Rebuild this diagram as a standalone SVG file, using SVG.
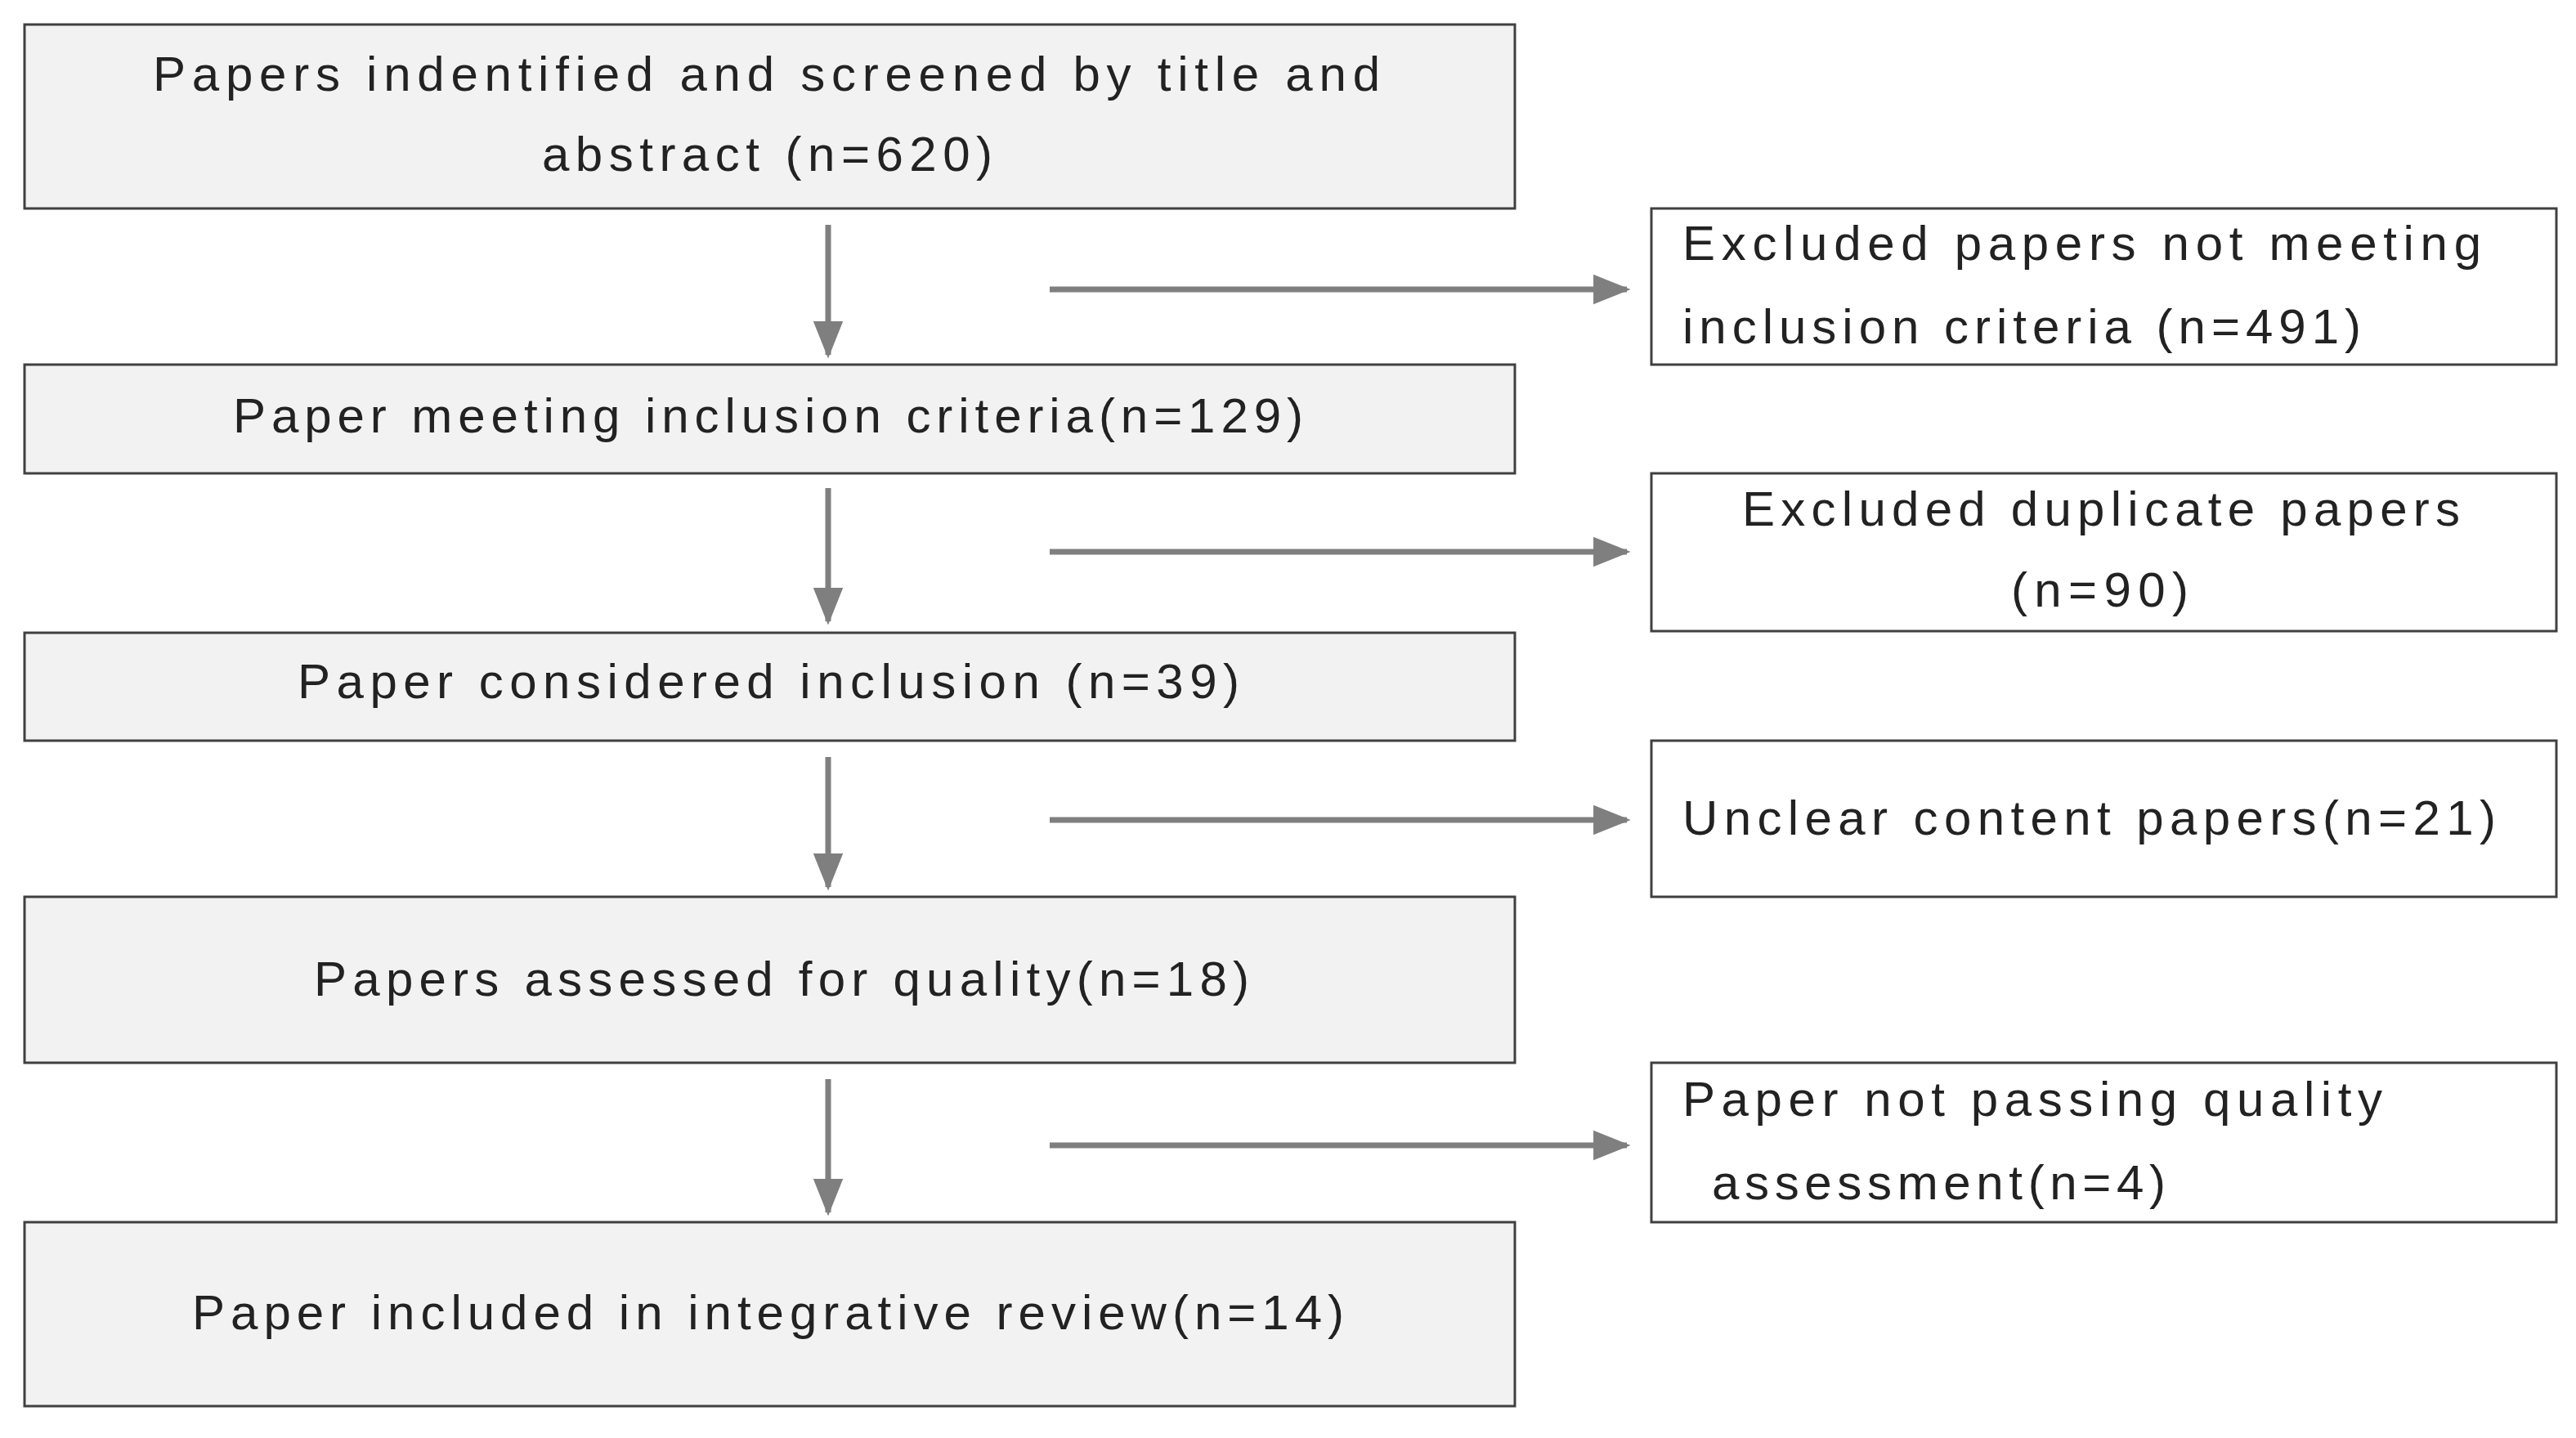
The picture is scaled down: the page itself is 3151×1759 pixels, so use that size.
<svg xmlns="http://www.w3.org/2000/svg" width="3151" height="1759" viewBox="0 0 3151 1759">
<style>
.b{fill:#f2f2f2;stroke:#404040;stroke-width:3}
.r{fill:#ffffff;stroke:#404040;stroke-width:3}
text{font-family:"Liberation Sans",Arial,sans-serif;font-size:60px;fill:#222}
.c{stroke:#7f7f7f;stroke-width:7;fill:none}
</style>
<defs><marker id="a" viewBox="0 0 10 10" refX="9" refY="5" markerWidth="6.5" markerHeight="6.5" orient="auto" markerUnits="strokeWidth"><path d="M0,1L10,5L0,9z" fill="#7f7f7f"/></marker></defs>
<rect width="3151" height="1759" fill="#fff"/>
<g id="n1"><rect class="b" x="30" y="30" width="1823" height="225"/><text x="187" y="111" textLength="1501" lengthAdjust="spacing">Papers indentified and screened by title and</text><text x="663" y="209" textLength="551" lengthAdjust="spacing">abstract (n=620)</text></g>
<g id="n2"><rect class="b" x="30" y="446" width="1823" height="133"/><text x="285" y="529" textLength="1309" lengthAdjust="spacing">Paper meeting inclusion criteria(n=129)</text></g>
<g id="n3"><rect class="b" x="30" y="774" width="1823" height="132"/><text x="364" y="854" textLength="1152" lengthAdjust="spacing">Paper considered inclusion (n=39)</text></g>
<g id="n4"><rect class="b" x="30" y="1097" width="1823" height="203"/><text x="384" y="1218" textLength="1144" lengthAdjust="spacing">Papers assessed for quality(n=18)</text></g>
<g id="n5"><rect class="b" x="30" y="1495" width="1823" height="225"/><text x="235" y="1626" textLength="1409" lengthAdjust="spacing">Paper included in integrative review(n=14)</text></g>
<g id="r1"><rect class="r" x="2020" y="255" width="1107" height="191"/><text x="2058" y="318" textLength="977" lengthAdjust="spacing">Excluded papers not meeting</text><text x="2058" y="420" textLength="830" lengthAdjust="spacing">inclusion criteria (n=491)</text></g>
<g id="r2"><rect class="r" x="2020" y="579" width="1107" height="193"/><text x="2131" y="643" textLength="878" lengthAdjust="spacing">Excluded duplicate papers</text><text x="2460" y="742" textLength="217" lengthAdjust="spacing">(n=90)</text></g>
<g id="r3"><rect class="r" x="2020" y="906" width="1107" height="191"/><text x="2058" y="1021" textLength="995" lengthAdjust="spacing">Unclear content papers(n=21)</text></g>
<g id="r4"><rect class="r" x="2020" y="1300" width="1107" height="195"/><text x="2058" y="1365" textLength="856" lengthAdjust="spacing">Paper not passing quality</text><text x="2094" y="1467" textLength="555" lengthAdjust="spacing">assessment(n=4)</text></g>
<g id="connectors">
<path class="c" marker-end="url(#a)" d="M1013,275V434"/>
<path class="c" marker-end="url(#a)" d="M1013,597V760"/>
<path class="c" marker-end="url(#a)" d="M1013,926V1085"/>
<path class="c" marker-end="url(#a)" d="M1013,1320V1483"/>
<path class="c" marker-end="url(#a)" d="M1284,354H1990"/>
<path class="c" marker-end="url(#a)" d="M1284,675H1990"/>
<path class="c" marker-end="url(#a)" d="M1284,1003H1990"/>
<path class="c" marker-end="url(#a)" d="M1284,1401H1990"/>
</g>
</svg>
